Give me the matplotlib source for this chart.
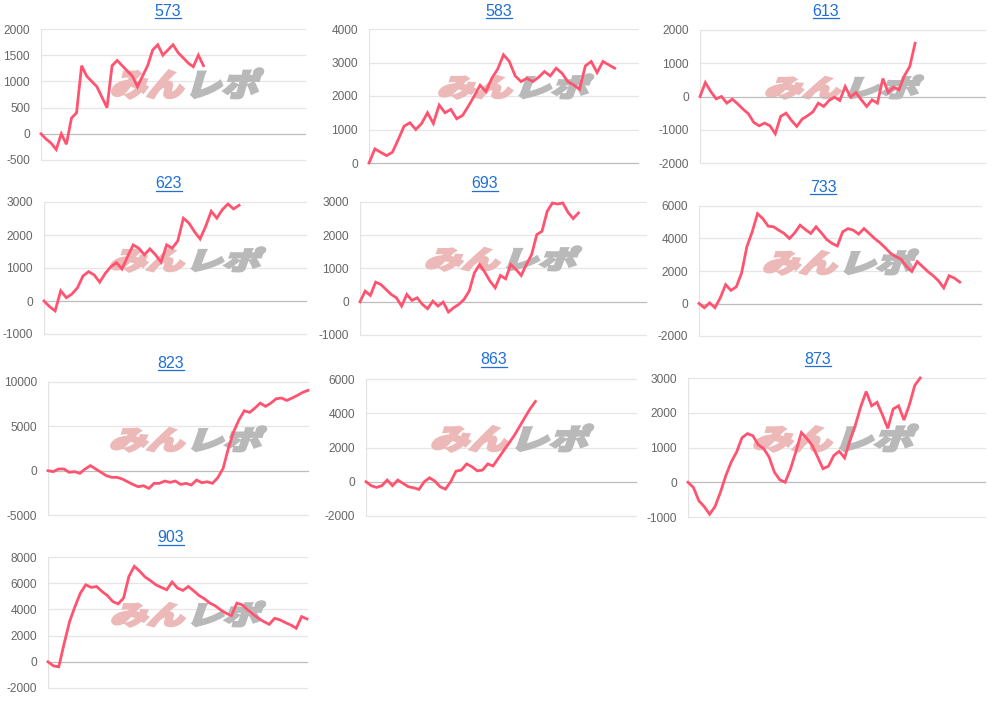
import matplotlib
matplotlib.use("Agg")
import matplotlib.pyplot as plt
from matplotlib.textpath import TextPath
from matplotlib.patches import PathPatch
from matplotlib.font_manager import FontProperties
from matplotlib.transforms import Affine2D
from matplotlib.lines import Line2D
import numpy as np

plt.rcParams["font.family"] = ["Liberation Sans", "DejaVu Sans"]

W, H = 994, 701

# 台番号ごとの差枚推移
titles = ["573", "583", "613", "623", "693", "733", "823", "863", "873", "903"]

d573 = [0, -100, -180, -300, 0, -200, 300, 400, 1300, 1100, 1000, 900, 700, 500,
        1300, 1400, 1300, 1200, 1100, 900, 1100, 1300, 1600, 1700, 1500, 1600,
        1700, 1550, 1450, 1350, 1280, 1500, 1300]
d583 = [0, 420, 320, 220, 320, 700, 1100, 1200, 1000, 1180, 1500, 1180, 1730, 1500,
        1600, 1320, 1420, 1700, 2000, 2320, 2130, 2530, 2800, 3230, 3030, 2600,
        2430, 2530, 2430, 2560, 2730, 2600, 2830, 2680, 2430, 2330, 2200, 2900,
        3030, 2700, 3030, 2930, 2830]
d613 = [0, 420, 150, -70, 0, -200, -80, -220, -380, -520, -780, -880, -800, -880,
        -1120, -600, -500, -720, -900, -680, -580, -460, -200, -300, -120, -20,
        -120, 300, -20, 120, -100, -300, -100, -200, 540, 120, 280, 200, 620, 900,
        1600]
d623 = [0, -170, -300, 310, 100, 210, 400, 760, 890, 790, 570, 840, 1040, 1160,
        970, 1350, 1700, 1600, 1400, 1580, 1400, 1180, 1700, 1600, 1820, 2510,
        2360, 2100, 1880, 2260, 2720, 2510, 2770, 2940, 2790, 2900]
d693 = [0, 320, 190, 590, 520, 370, 220, 120, -130, 220, 40, 120, -80, -210, 20,
        -130, -10, -310, -180, -80, 70, 320, 870, 1120, 890, 620, 420, 790, 690,
        1120, 970, 790, 1120, 1420, 2020, 2120, 2720, 2970, 2940, 2970, 2690,
        2500, 2670]
d733 = [0, -260, 40, -260, 350, 1160, 810, 1020, 1870, 3500, 4410, 5530, 5220,
        4760, 4720, 4510, 4310, 4000, 4350, 4820, 4550, 4310, 4720, 4350, 3940,
        3700, 3540, 4410, 4610, 4510, 4270, 4610, 4310, 4000, 3740, 3430, 3090,
        2890, 2720, 2280, 1970, 2580, 2280, 1970, 1710, 1400, 960, 1710, 1560, 1320]
d823 = [0, -110, 190, 190, -190, -110, -300, 190, 570, 190, -190, -570, -750, -750,
        -940, -1250, -1550, -1810, -1700, -2000, -1430, -1430, -1170, -1320, -1170,
        -1550, -1430, -1620, -1060, -1360, -1250, -1430, -790, 260, 2530, 4420,
        5740, 6760, 6570, 7060, 7620, 7250, 7620, 8110, 8190, 7920, 8190, 8490,
        8830, 9060]
d863 = [0, -230, -330, -230, 100, -230, 100, -100, -290, -350, -450, 0, 230, 40,
        -290, -430, 0, 620, 680, 1040, 880, 640, 680, 1040, 920, 1370, 1820, 2250,
        2700, 3220, 3750, 4260, 4690]
d873 = [0, -150, -530, -700, -920, -700, -290, 190, 580, 870, 1280, 1400, 1340,
        1080, 970, 730, 290, 70, 0, 390, 890, 1430, 1260, 1060, 730, 390, 460, 770,
        890, 700, 1210, 1650, 2180, 2610, 2200, 2300, 1940, 1550, 2110, 2200, 1790,
        2230, 2790, 3000]
d903 = [0, -310, -380, 1410, 3070, 4220, 5240, 5880, 5680, 5750, 5370, 5060, 4600,
        4420, 4860, 6520, 7290, 6910, 6470, 6190, 5880, 5680, 5500, 6090, 5630,
        5450, 5750, 5420, 5060, 4810, 4480, 4270, 3960, 3710, 3530, 4480, 4350,
        3960, 3630, 3320, 3070, 2860, 3320, 3200, 2990, 2810, 2560, 3450, 3270]
series = [d573, d583, d613, d623, d693, d733, d823, d863, d873, d903]

x_max = [52, 46, 53, 47, 55, 53, 49, 51, 55, 48]
y_lim = [(-500, 2000), (0, 4000), (-2000, 2000), (-1000, 3000), (-1000, 3000),
         (-2000, 6000), (-5000, 10000), (-2000, 6000), (-1000, 3000), (-2000, 8000)]
y_step = [500, 1000, 1000, 1000, 1000, 2000, 5000, 2000, 1000, 2000]

# レイアウト (px): left, right, top, bottom
boxes = [(41, 305, 29, 160), (369, 638, 29, 163), (700, 985, 30, 163),
         (44, 306, 202, 334), (360, 646, 202, 335), (699, 981, 206, 336),
         (48, 308, 382, 515), (366, 636, 379, 516), (688, 985, 378, 517),
         (48, 307, 557, 688)]
title_pos = [(168, 11), (499, 11), (826, 11), (169, 184), (485, 184), (823, 187),
             (171, 363), (494, 360), (818, 359), (171, 538)]
# ロゴ: left, right, top, bottom (px)
logo_box = [(108, 265, 67, 100), (435, 595, 73, 100), (762, 925, 74, 100),
            (107, 267, 246, 273), (422, 583, 245, 272), (760, 920, 248, 276),
            (107, 268, 425, 453), (428, 595, 423, 453), (750, 920, 423, 453),
            (108, 267, 600, 628)]

LINE = "#ff5370"
BLUE = "#1f6fd6"

fig = plt.figure(figsize=(W / 100, H / 100), dpi=100)

jp = FontProperties(family=["Noto Sans CJK JP"], weight="black")
p_pink = TextPath((0, 0), "みん", size=40, prop=jp)
p_gray = TextPath((82, 0), "レポ", size=40, prop=jp)
skew = Affine2D().skew_deg(14, 0)
p_pink = p_pink.transformed(skew)
p_gray = p_gray.transformed(skew)
allv = np.vstack([p_pink.vertices, p_gray.vertices])
vx0, vy0 = allv.min(axis=0)
vx1, vy1 = allv.max(axis=0)

titles_objs = []
for i, t in enumerate(titles):
    l, r, top, b = boxes[i]
    ax = fig.add_axes([l / W, 1 - b / H, (r - l) / W, (b - top) / H])
    ys = series[i]
    ax.plot(np.arange(len(ys)), ys, color=LINE, lw=2.0, zorder=3,
            solid_joinstyle="miter", clip_on=False)
    ax.set_xlim(0, x_max[i])
    lo, hi = y_lim[i]
    ax.set_ylim(lo, hi)
    ticks = np.arange(lo, hi + 1, y_step[i])
    ax.set_yticks(ticks)
    ax.set_yticklabels([str(v) for v in ticks])
    ax.set_xticks([])
    ax.tick_params(axis="y", length=0, pad=8, labelsize=8.6, labelcolor="#666666")
    for s in ax.spines.values():
        s.set_visible(False)
    for v in ticks:
        ax.axhline(v, color="#bdbdbd" if v == 0 else "#e6e6e6", lw=0.9,
                   zorder=1 if v != 0 else 2, clip_on=False)
    ax.axvline(0, color="#e3e3e3", lw=0.9, zorder=1)
    ax.set_facecolor("none")

    # 透かしロゴ
    ll, lr, lt, lb = logo_box[i]
    tr = (Affine2D().translate(-vx0, -vy0)
          .scale((lr - ll - 3) / (vx1 - vx0), (lb - lt - 3) / (vy1 - vy0))
          .translate(ll + 1.5, H - lb + 1.5))
    ax.add_patch(PathPatch(p_pink, transform=tr, facecolor="#ecb8b8",
                           edgecolor="#ecb8b8", lw=1.8, zorder=1.5))
    ax.add_patch(PathPatch(p_gray, transform=tr, facecolor="#b9b9b9",
                           edgecolor="#b9b9b9", lw=1.8, zorder=1.5))

    tx, ty = title_pos[i]
    txt = fig.text(tx / W, 1 - ty / H, t, ha="center", va="center",
                   fontsize=11.5, color=BLUE)
    titles_objs.append(txt)

fig.canvas.draw()
renderer = fig.canvas.get_renderer()
for txt in titles_objs:
    bb = txt.get_window_extent(renderer)
    yline = bb.y0 + 1
    fig.add_artist(Line2D([bb.x0 / W, bb.x1 / W], [yline / H, yline / H],
                          transform=fig.transFigure, color=BLUE, lw=0.9))

fig.savefig("out.png", dpi=100, facecolor="white")
